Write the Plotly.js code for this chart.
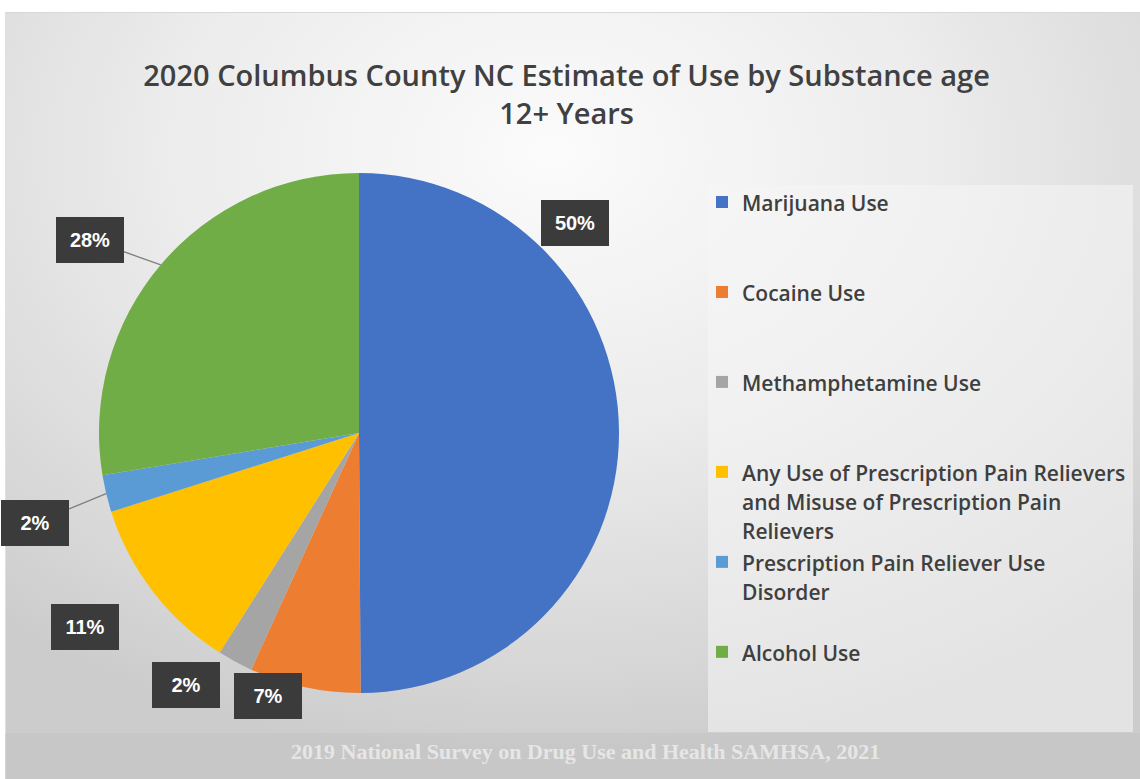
<!DOCTYPE html>
<html>
<head>
<meta charset="utf-8">
<script src="https://cdn.plot.ly/plotly-3.0.1.min.js"></script>
<style>
  html, body { margin: 0; padding: 0; background: #ffffff; }
  #bg {
    position: absolute; left: 5px; top: 12px; width: 1135px; height: 767px;
    background: radial-gradient(ellipse 75% 80% at 48% 18%, #fbfbfb 0%, #ececec 45%, #d6d6d6 85%, #cccccc 100%);
    border-top: 1px solid #d8d8d8; border-left: 1px solid #e0e0e0;
  }
  #chart { position: absolute; left: 0; top: 0; width: 1140px; height: 779px; }
</style>
</head>
<body>
<div id="bg"></div>
<div id="chart"></div>
<script>
// ---- data ----
const categories = [
  'Marijuana Use',
  'Cocaine Use',
  'Methamphetamine Use',
  'Any Use of Prescription Pain Relievers and Misuse of Prescription Pain Relievers',
  'Prescription Pain Reliever Use Disorder',
  'Alcohol Use'
];
const shares = [49.9, 6.9, 2.2, 11.1, 2.3, 27.6];
const sliceColors = ['#4472C4', '#ED7D31', '#A5A5A5', '#FFC000', '#5B9BD5', '#70AD47'];
const chartTitle = '2020 Columbus County NC Estimate of Use by Substance age<br>12+ Years';
const sourceNote = '2019 National Survey on Drug Use and Health SAMHSA, 2021';

// ---- styling / layout configuration ----
const W = 1140, H = 779;
const pieBox = { left: 99, right: 619, top: 173, bottom: 693 };   // pixel box of the pie domain
const labelOffsets = [[-44, -209], [-37, 9], [-49, 23], [-68, 35], [-71, 29], [-71, -25]]; // label box offsets (px) from slice edge
const leaderLines = [false, false, false, false, true, true];
const LEGEND_TEXT_STYLE = 'font-size:21px;font-weight:600';

function wrapText(s, maxChars) {
  const words = s.split(' ');
  const lines = [];
  let cur = '';
  words.forEach(w => {
    if (cur.length === 0) cur = w;
    else if ((cur + ' ' + w).length <= maxChars) cur += ' ' + w;
    else { lines.push(cur); cur = w; }
  });
  if (cur) lines.push(cur);
  return lines;
}
const LINES_PER_ITEM = 3;
const legendLabels = categories.map((c, i) => {
  const lines = wrapText(c, 38).map(l => '<span style="' + LEGEND_TEXT_STYLE + '">' + l + '</span>');
  if (i < categories.length - 1) {
    while (lines.length < LINES_PER_ITEM) lines.push('\u00a0');
  }
  return lines.join('<br>');
});

// geometry for label anchors derived from data
const cx = (pieBox.left + pieBox.right) / 2;
const cy = (pieBox.top + pieBox.bottom) / 2;
const R = Math.min(pieBox.right - pieBox.left, pieBox.bottom - pieBox.top) / 2;
const total = shares.reduce((a, b) => a + b, 0);
let cum = 0;
const annotations = shares.map((v, i) => {
  const mid = (cum + v / 2) / total * 2 * Math.PI;
  cum += v;
  const px = cx + R * Math.sin(mid);
  const py = cy - R * Math.cos(mid);
  return {
    xref: 'paper', yref: 'paper',
    x: px / W, y: 1 - py / H,
    text: '<b>' + Math.round(v / total * 100) + '%</b>',
    showarrow: true, arrowhead: 0, arrowwidth: 1.3,
    arrowcolor: leaderLines[i] ? '#7f7f7f' : 'rgba(0,0,0,0)',
    ax: labelOffsets[i][0], ay: labelOffsets[i][1],
    bgcolor: '#3b3b3b', bordercolor: '#3b3b3b', borderwidth: 0, borderpad: 7,
    width: 54, height: 32,
    font: { family: 'Liberation Sans, Arial, sans-serif', size: 20, color: '#ffffff' }
  };
});
annotations.push({
  xref: 'paper', yref: 'paper', x: 585 / W, y: 1 - 766 / H,
  showarrow: false, text: '<b>' + sourceNote + '</b>',
  font: { family: 'Liberation Serif, serif', size: 22, color: '#e6e6e6' }
});

const trace = {
  type: 'pie',
  labels: legendLabels,
  values: shares,
  sort: false,
  direction: 'clockwise',
  rotation: 0,
  textinfo: 'none',
  hoverinfo: 'percent',
  marker: { colors: sliceColors, line: { width: 0 } },
  domain: { x: [pieBox.left / W, pieBox.right / W], y: [1 - pieBox.bottom / H, 1 - pieBox.top / H] }
};

const layout = {
  width: W, height: H,
  margin: { l: 0, r: 0, t: 0, b: 0 },
  paper_bgcolor: 'rgba(0,0,0,0)',
  plot_bgcolor: 'rgba(0,0,0,0)',
  title: {
    text: chartTitle,
    x: 0.497, xanchor: 'center',
    y: 1 - 86 / H, yanchor: 'top', yref: 'container',
    font: { family: 'Open Sans, sans-serif', size: 29, weight: 600, color: '#404040' }
  },
  showlegend: true,
  legend: {
    x: 702 / W, xanchor: 'left',
    y: 1 - 181 / H, yanchor: 'top',
    valign: 'top',
    bgcolor: 'rgba(0,0,0,0)',
    font: { family: 'Open Sans, sans-serif', size: 22.3, color: '#3f3f3f' },
    itemclick: false
  },
  shapes: [
    { type: 'rect', xref: 'paper', yref: 'paper', layer: 'below',
      x0: 708 / W, x1: 1133 / W, y0: 1 - 732 / H, y1: 1 - 185 / H,
      fillcolor: 'rgba(246,246,246,0.55)', line: { width: 0 } },
    { type: 'rect', xref: 'paper', yref: 'paper', layer: 'below',
      x0: 5 / W, x1: 1, y0: 0, y1: 1 - 733 / H,
      fillcolor: 'rgba(190,190,190,0.35)', line: { width: 0 } }
  ],
  annotations: annotations
};

Plotly.newPlot('chart', [trace], layout, { displayModeBar: false, staticPlot: true });
</script>
</body>
</html>
